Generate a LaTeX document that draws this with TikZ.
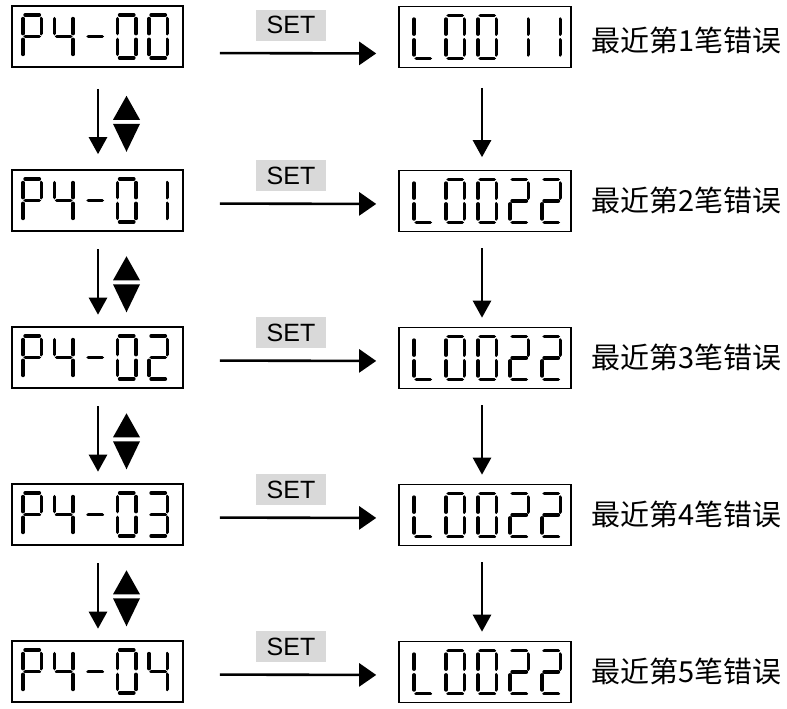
\documentclass[tikz,border=0pt]{standalone}
\usepackage{fontspec}
\setmainfont{Liberation Sans}
\newfontfamily\cjk{Noto Sans CJK SC}
\usetikzlibrary{arrows.meta,calc}
\tikzset{
  dispbox/.style={draw, line width=1.6pt, minimum width=171pt, minimum height=61pt, inner sep=0pt},
  seg/.style={line width=3.8pt, line cap=round},
  setlabel/.style={fill=setgray, minimum width=70pt, minimum height=31pt, inner sep=0pt, font=\fontsize{25}{27}\selectfont},
  errtext/.style={anchor=west, inner sep=0pt, font=\cjk\fontsize{29}{31}\selectfont},
  setarrow/.style={line width=2.6pt, -{Triangle[length=17pt,width=23pt]}, shorten <=36pt, shorten >=22pt},
  downarrow/.style={line width=2.6pt, -{Triangle[length=17pt,width=18pt]}},
}
\definecolor{setgray}{RGB}{217,217,217}
\newcommand\drawseg[1]{%
  \if a#1\draw[seg] (-7,-21.5) -- (7,-21.5);\fi
  \if b#1\draw[seg] (9.2,-17.8) -- (9.2,-3);\fi
  \if c#1\draw[seg] (9.2,3) -- (9.2,17.8);\fi
  \if d#1\draw[seg] (-7,21.5) -- (7,21.5);\fi
  \if e#1\draw[seg] (-9.2,3) -- (-9.2,17.8);\fi
  \if f#1\draw[seg] (-9.2,-17.8) -- (-9.2,-3);\fi
  \if g#1\draw[seg] (-7,0) -- (7,0);\fi}
\def\gP{a,b,e,f,g}
\def\gFour{b,c,f,g}
\def\gDash{g}
\def\gZero{a,b,c,d,e,f}
\def\gOne{b,c}
\def\gTwo{a,b,d,e,g}
\def\gThree{a,b,c,d,g}
\def\gL{d,e,f}
\newcommand\dispdigits[4]{%
  \foreach [count=\i from 0] \d in {#4} {%
    \begin{scope}[shift={($(#1.west)+(#2+#3*\i,0)$)}]
      \edef\segs{\d}%
      \foreach \s in \segs {\drawseg{\s}}
    \end{scope}}}
\begin{document}
\begin{tikzpicture}[x=1pt, y=-1pt]
\useasboundingbox (0,0) rectangle (787,709);
% displays: row / box centre
\foreach \r/\c in {1/36.5, 2/200.5, 3/357.5, 4/514.5, 5/671.5} {
  \node[dispbox] (L\r) at (97.5,\c) {};
  \node[dispbox, minimum width=172pt] (R\r) at (485,\c+0.5) {};
}
\dispdigits{L1}{21}{31.5}{\gP,\gFour,\gDash,\gZero,\gZero}
\dispdigits{L2}{21}{31.5}{\gP,\gFour,\gDash,\gZero,\gOne}
\dispdigits{L3}{21}{31.5}{\gP,\gFour,\gDash,\gZero,\gTwo}
\dispdigits{L4}{21}{31.5}{\gP,\gFour,\gDash,\gZero,\gThree}
\dispdigits{L5}{21}{31.5}{\gP,\gFour,\gDash,\gZero,\gFour}
\dispdigits{R1}{25}{32}{\gL,\gZero,\gZero,\gOne,\gOne}
\dispdigits{R2}{25}{32}{\gL,\gZero,\gZero,\gTwo,\gTwo}
\dispdigits{R3}{25}{32}{\gL,\gZero,\gZero,\gTwo,\gTwo}
\dispdigits{R4}{25}{32}{\gL,\gZero,\gZero,\gTwo,\gTwo}
\dispdigits{R5}{25}{32}{\gL,\gZero,\gZero,\gTwo,\gTwo}
% SET arrows and labels, error texts: row / arrow offset / text offset
\foreach \r/\ay/\ty in {1/16.5/3.5, 2/3/0, 3/3/0, 4/3/0, 5/3/0} {
  \node[setlabel] (S\r) at ($(L\r.east)!0.5!(R\r.west)+(0,\ay-28)$) {SET};
  \draw[setarrow] ([yshift=-\ay pt]L\r.east) -- ([yshift=-\ay pt]R\r.west);
  \node[errtext] (T\r) at ($(R\r.east)+(19,\ty-0.5)$) {最近第\r 笔错误};
}
% vertical arrows: from / to / half gap
\foreach \a/\b/\h in {1/2/51.5, 2/3/48, 3/4/48, 4/5/48} {
  \draw[downarrow, shorten <=\h pt-30.5pt, shorten >=\h pt-36.5pt] ([xshift=0.5pt]L\a.south) -- ([xshift=0.5pt]L\b.north);
  \draw[downarrow, shorten <=\h pt-32pt, shorten >=\h pt-39pt] ([xshift=-3pt]R\a.south) -- ([xshift=-3pt]R\b.north);
  \fill ($(L\a.south)+(29,\h-23.5)$) -- ($(L\a.south)+(42.5,\h+0.5)$) -- ($(L\a.south)+(15.5,\h+0.5)$) -- cycle;
  \fill ($(L\a.south)+(15.5,\h+4.5)$) -- ($(L\a.south)+(42.5,\h+4.5)$) -- ($(L\a.south)+(29,\h+32.5)$) -- cycle;
}
\end{tikzpicture}
\end{document}
